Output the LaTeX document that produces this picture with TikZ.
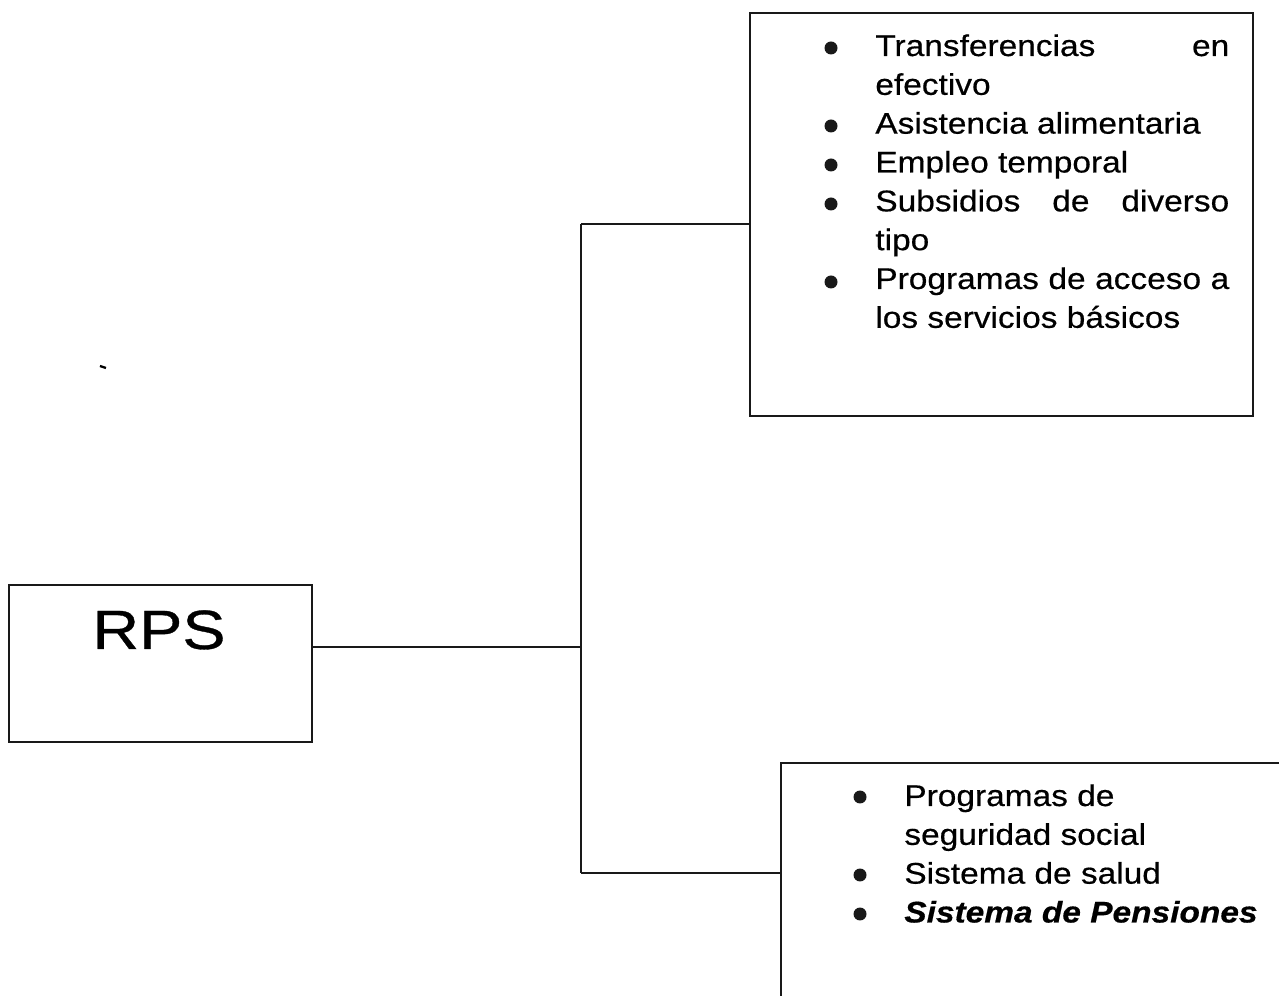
\documentclass[tikz,border=0pt]{standalone}
\usepackage{fontspec}
\setmainfont{Liberation Sans}[FakeStretch=1.12, FakeBold=0.5]
\newfontfamily\rpsfont{Liberation Sans}[FakeStretch=1.17, FakeBold=0.6]
\tikzset{
	box/.style={draw=black!90, line width=1.3pt, inner sep=0pt, anchor=north west},
	wire/.style={draw=black!90, line width=1.3pt},
	itemlist/.style={anchor=base west, inner sep=0pt, align=left},
}
\newcommand{\jline}[1]{\makebox[7.08cm][s]{#1}}

\begin{document}
\begin{tikzpicture}[x=0.02cm, y=-0.02cm, font=\fontsize{17}{22.1}\selectfont]
		\useasboundingbox (0,0) rectangle (1279,996);
		\clip (0,0) rectangle (1279,996);
		\node[box, minimum width=6.06cm, minimum height=3.14cm] (1) at (8,584) {};
		\node[box, minimum width=10.06cm, minimum height=8.06cm] (2) at (749,12) {};
		\node[box, minimum width=11cm, minimum height=6cm] (3) at (780,762) {};
		\node[anchor=base] (4) at (159,649) {\rpsfont\fontsize{31.5}{36}\selectfont RPS};
		\node[itemlist] (5) at (875,56) {%
			\begin{tabular}[t]{@{}l@{}}
				\jline{Transferencias en}\\
				efectivo\\
				Asistencia alimentaria\\
				Empleo temporal\\
				\jline{Subsidios de diverso}\\
				tipo\\
				\jline{Programas de acceso a}\\
				los servicios básicos
			\end{tabular}};
		\node[itemlist] (6) at (904,806) {%
			\begin{tabular}[t]{@{}l@{}}
				Programas de\\
				seguridad social\\
				Sistema de salud\\
				\textbf{\textit{Sistema de Pensiones}}
			\end{tabular}};
		% bullets
		\foreach \y in {48,126,165,204,282}
			\fill[black!90] (831,\y) circle[radius=0.13cm];
		\foreach \y in {797,875,914}
			\fill[black!90] (860,\y) circle[radius=0.13cm];
		\coordinate (h) at (581,647);
		\coordinate (a) at (581,224);
		\coordinate (b) at (581,873);
		\draw[wire] (1.east |- h) -- (h);
		\draw[wire] (a) -- (b);
		\draw[wire] (a) -- (a -| 2.west);
		\draw[wire] (b) -- (b -| 3.west);
		\draw[line width=1.3pt] (100,366) -- (106,368);
	\end{tikzpicture}
\end{document}
